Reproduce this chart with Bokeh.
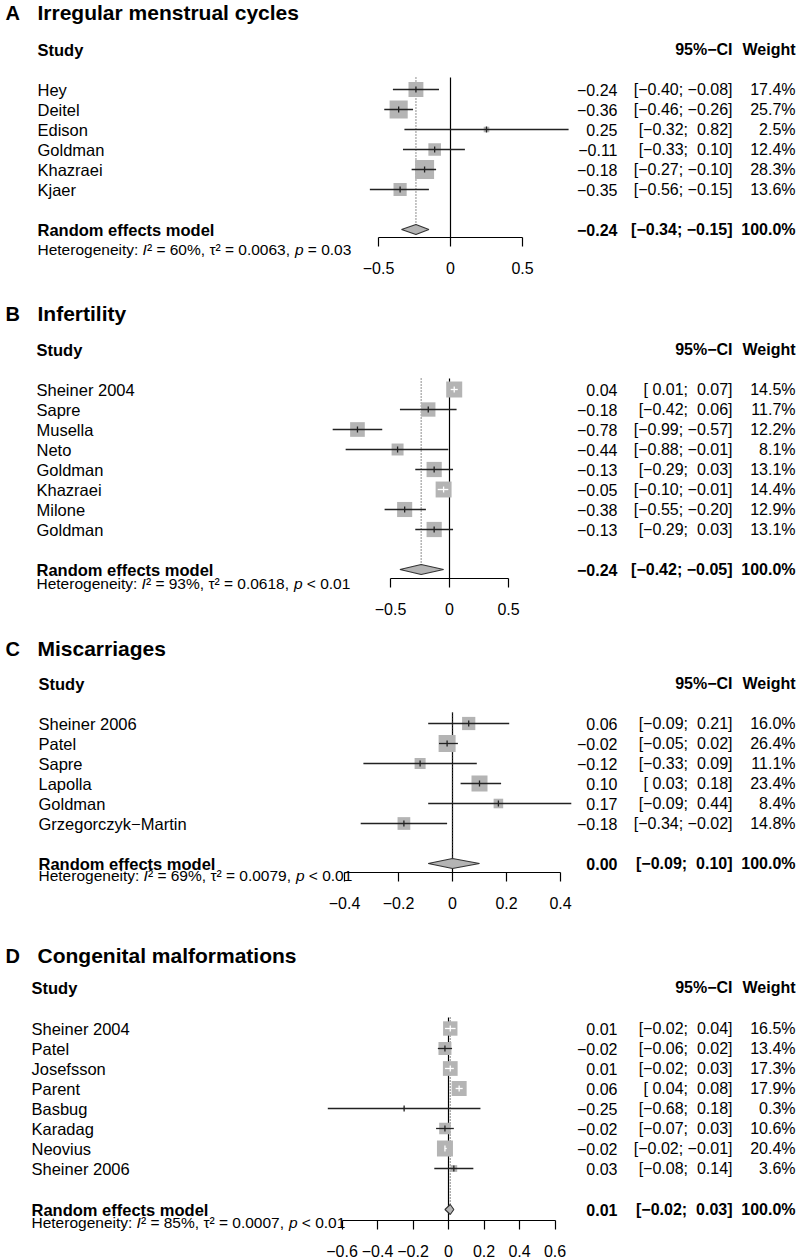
import math
from bokeh.plotting import figure
from bokeh.models import Range1d, LinearAxis, FixedTicker, CustomJSTickFormatter
from bokeh.core.properties import value
from bokeh.embed import file_html
from bokeh.resources import INLINE

# ---------------- data ----------------
a_title = "Irregular menstrual cycles"
a_studies = ["Hey", "Deitel", "Edison", "Goldman", "Khazraei", "Kjaer"]
a_est = [-0.24, -0.36, 0.25, -0.11, -0.18, -0.35]
a_lo = [-0.40, -0.46, -0.32, -0.33, -0.27, -0.56]
a_hi = [-0.08, -0.26, 0.82, 0.10, -0.10, -0.15]
a_weight = [17.4, 25.7, 2.5, 12.4, 28.3, 13.6]
a_re = [-0.24, -0.34, -0.15]
a_het = ["60", "0.0063", "= 0.03"]
a_ticks = [-0.5, 0, 0.5]

b_title = "Infertility"
b_studies = ["Sheiner 2004", "Sapre", "Musella", "Neto", "Goldman", "Khazraei", "Milone", "Goldman"]
b_est = [0.04, -0.18, -0.78, -0.44, -0.13, -0.05, -0.38, -0.13]
b_lo = [0.01, -0.42, -0.99, -0.88, -0.29, -0.10, -0.55, -0.29]
b_hi = [0.07, 0.06, -0.57, -0.01, 0.03, -0.01, -0.20, 0.03]
b_weight = [14.5, 11.7, 12.2, 8.1, 13.1, 14.4, 12.9, 13.1]
b_re = [-0.24, -0.42, -0.05]
b_het = ["93", "0.0618", "< 0.01"]
b_ticks = [-0.5, 0, 0.5]

c_title = "Miscarriages"
c_studies = ["Sheiner 2006", "Patel", "Sapre", "Lapolla", "Goldman", "Grzegorczyk\u2212Martin"]
c_est = [0.06, -0.02, -0.12, 0.10, 0.17, -0.18]
c_lo = [-0.09, -0.05, -0.33, 0.03, -0.09, -0.34]
c_hi = [0.21, 0.02, 0.09, 0.18, 0.44, -0.02]
c_weight = [16.0, 26.4, 11.1, 23.4, 8.4, 14.8]
c_re = [0.00, -0.09, 0.10]
c_het = ["69", "0.0079", "< 0.01"]
c_ticks = [-0.4, -0.2, 0, 0.2, 0.4]

d_title = "Congenital malformations"
d_studies = ["Sheiner 2004", "Patel", "Josefsson", "Parent", "Basbug", "Karadag", "Neovius", "Sheiner 2006"]
d_est = [0.01, -0.02, 0.01, 0.06, -0.25, -0.02, -0.02, 0.03]
d_lo = [-0.02, -0.06, -0.02, 0.04, -0.68, -0.07, -0.02, -0.08]
d_hi = [0.04, 0.02, 0.03, 0.08, 0.18, 0.03, -0.01, 0.14]
d_weight = [16.5, 13.4, 17.3, 17.9, 0.3, 10.6, 20.4, 3.6]
d_re = [0.01, -0.02, 0.03]
d_het = ["85", "0.0007", "< 0.01"]
d_ticks = [-0.6, -0.4, -0.2, 0, 0.2, 0.4, 0.6]

panels = [
    ("A", a_title, a_studies, a_est, a_lo, a_hi, a_weight, a_re, a_het, a_ticks),
    ("B", b_title, b_studies, b_est, b_lo, b_hi, b_weight, b_re, b_het, b_ticks),
    ("C", c_title, c_studies, c_est, c_lo, c_hi, c_weight, c_re, c_het, c_ticks),
    ("D", d_title, d_studies, d_est, d_lo, d_hi, d_weight, d_re, d_het, d_ticks),
]

# ---------------- layout (page px) ----------------
LAYOUT = {
    "A": dict(title=12, header=49, row0=89, re=229, het=249, axis=237, top=77,
              x0=450, scale=144.0, smax=19, study_x=37),
    "B": dict(title=313, header=349, row0=389, re=569, het=583, axis=578, top=378,
              x0=449, scale=118.0, smax=16, study_x=36),
    "C": dict(title=648, header=683, row0=723, re=863, het=875, axis=872, top=712,
              x0=452, scale=270.0, smax=17, study_x=38),
    "D": dict(title=955, header=987, row0=1028, re=1209, het=1222, axis=1220, top=1017,
              x0=448, scale=177.5, smax=16, study_x=31),
}
ROW_STEP = 20
W, H = 800, 1259
FONT = "Liberation Sans"
SQ = "#b4b4b4"
LINE = "#222222"
EST_X, CI_X, WT_X = 617, 732, 795
LETTER_X, TITLE_X = 5, 37

MINUS = "\u2212"
NB = "\u00a0"


def fnum(v):
    s = f"{v:.2f}"
    if s == "-0.00":
        s = "0.00"
    return s.replace("-", MINUS)


def fci(lo, hi):
    def pad(v):
        s = fnum(v)
        return s if s.startswith(MINUS) else NB + s
    return "[" + pad(lo) + "; " + pad(hi) + "]"


AW = {' ': 278, '%': 889, ',': 278, '.': 278, ':': 278, '<': 584, '=': 584, '\u00b2': 333,
      '\u03c4': 430, 'H': 722, 'e': 556, 't': 278, 'r': 333, 'o': 556, 'g': 556, 'n': 556,
      'i': 222, 'y': 500, 'p': 556, 'I': 278}


def tw(s, size):
    return sum(AW.get(ch, 556) for ch in s) / 1000.0 * size


p = figure(width=W, height=H, x_range=Range1d(0, W), y_range=Range1d(H, 0),
           output_backend="svg", toolbar_location=None, x_axis_type=None, y_axis_type=None,
           min_border=0, outline_line_color=None)
p.background_fill_color = "white"
p.border_fill_color = "white"

groups = {}


def add_text(key, x, y, t):
    g = groups.setdefault(key, dict(x=[], y=[], text=[]))
    g["x"].append(x)
    g["y"].append(y)
    g["text"].append(t)


fmt = CustomJSTickFormatter(code="""
    if (Math.abs(tick) < 1e-9) { return "0"; }
    return tick.toFixed(1).replace("-", "\u2212");
""")

HET_FS = 15.5

for (key, title, studies, est, lo, hi, wt, re, het, ticks) in panels:
    L = LAYOUT[key]

    x0 = L["x0"]
    s = L["scale"]
    p.extra_x_ranges[key] = Range1d((0 - x0) / s, (W - x0) / s)

    n = len(studies)
    rows = [L["row0"] + ROW_STEP * i for i in range(n)]
    wmax = max(wt)
    sizes = [L["smax"] * math.sqrt(w / wmax) for w in wt]
    cols = ["white" if (h - l) * s < sz else LINE for l, h, sz in zip(lo, hi, sizes)]

    top = L["top"]
    axis_y = L["axis"]
    re_y = L["re"]

    # reference line at no effect
    p.segment(x0=[0], y0=[top], x1=[0], y1=[axis_y], line_color="black", line_width=1.2,
              x_range_name=key)
    # pooled estimate dotted line
    p.segment(x0=[re[0]], y0=[top], x1=[re[0]], y1=[re_y - 5], line_color="#444444",
              line_width=1.2, line_dash="1 2", x_range_name=key)
    # squares
    p.rect(x=est, y=rows, width=sizes, height=sizes, width_units="screen",
           height_units="screen", fill_color=SQ, line_color=None, x_range_name=key)
    # CI lines
    p.segment(x0=lo, y0=rows, x1=hi, y1=rows, line_color=cols, line_width=1.3,
              x_range_name=key)
    # point estimate ticks
    p.segment(x0=est, y0=[r - 3 for r in rows], x1=est, y1=[r + 3 for r in rows],
              line_color=cols, line_width=1.3, x_range_name=key)
    # diamond
    p.patch(x=[re[1], re[0], re[2], re[0]], y=[re_y, re_y - 5, re_y, re_y + 5],
            fill_color=SQ, line_color="#333333", line_width=1.1, x_range_name=key)

    ax = LinearAxis(x_range_name=key, fixed_location=axis_y, bounds=(ticks[0], ticks[-1]),
                    ticker=FixedTicker(ticks=ticks), formatter=fmt,
                    axis_line_color="black", axis_line_width=1.2,
                    major_tick_line_color="black", major_tick_line_width=1.2,
                    major_tick_out=9, major_tick_in=0, minor_tick_out=0, minor_tick_in=0,
                    major_label_standoff=15, major_label_text_font=FONT,
                    major_label_text_font_size="16px", major_label_text_color="black")
    p.add_layout(ax, "below")

    # texts
    add_text("letter", LETTER_X, L["title"], key)
    add_text("title", TITLE_X, L["title"], title)
    sx = L["study_x"]
    add_text("bold_left", sx, L["header"], "Study")
    add_text("bold_right", CI_X, L["header"], "95%" + MINUS + "CI")
    add_text("bold_right", WT_X, L["header"], "Weight")
    for i in range(n):
        add_text("left", sx, rows[i], studies[i])
        add_text("right", EST_X, rows[i], fnum(est[i]))
        add_text("right", CI_X, rows[i], fci(lo[i], hi[i]))
        add_text("right", WT_X, rows[i], f"{wt[i]:.1f}%")
    add_text("bold_left", sx, re_y, "Random effects model")
    add_text("bold_right", EST_X, re_y, fnum(re[0]))
    add_text("bold_right", CI_X, re_y, fci(re[1], re[2]))
    add_text("bold_right", WT_X, re_y, "100.0%")

    hy = L["het"]
    s1 = "Heterogeneity:"
    add_text("het", sx, hy, s1)
    xi = sx + tw(s1 + " ", HET_FS)
    add_text("het_it", xi, hy, "I")
    x3 = xi + tw("I", HET_FS)
    s3 = "\u00b2 = " + het[0] + "%, \u03c4\u00b2 = " + het[1] + ","
    add_text("het", x3, hy, s3)
    xp = x3 + tw(s3 + " ", HET_FS)
    add_text("het_it", xp, hy, "p")
    add_text("het", xp + tw("p ", HET_FS), hy, het[2])

styles = {
    "letter": dict(text_font_size="20px", text_font_style="bold", text_align="left"),
    "title": dict(text_font_size="21px", text_font_style="bold", text_align="left"),
    "bold_left": dict(text_font_size="16.5px", text_font_style="bold", text_align="left"),
    "bold_right": dict(text_font_size="16px", text_font_style="bold", text_align="right"),
    "left": dict(text_font_size="16.5px", text_font_style="normal", text_align="left"),
    "right": dict(text_font_size="16px", text_font_style="normal", text_align="right"),
    "het": dict(text_font_size=f"{HET_FS}px", text_font_style="normal", text_align="left"),
    "het_it": dict(text_font_size=f"{HET_FS}px", text_font_style="italic", text_align="left"),
}
for k, g in groups.items():
    p.text(x=g["x"], y=g["y"], text=g["text"], text_font=value(FONT), text_color="black",
           text_baseline="middle", **styles[k])

open("out.html", "w").write(file_html(p, INLINE))
